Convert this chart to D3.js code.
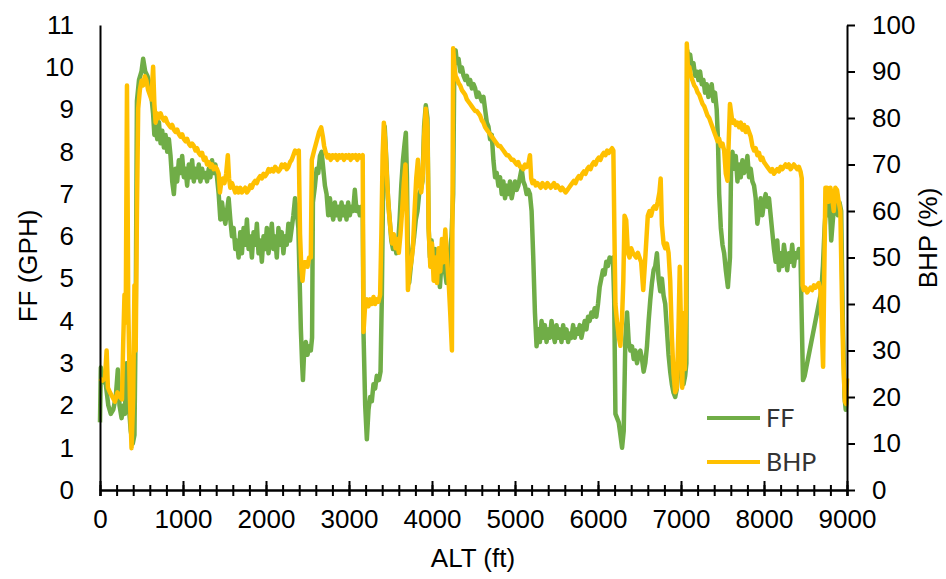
<!DOCTYPE html>
<html><head><meta charset="utf-8">
<script src="https://cdn.jsdelivr.net/npm/d3@7"></script>
<style>body{margin:0;background:#fff}svg{display:block}</style>
</head><body>
<svg id="chart" width="946" height="579"></svg>
<script>
// ---- data (ALT ft, value) ----
const altTicks = [0,1000,2000,3000,4000,5000,6000,7000,8000,9000];
const ffTicks = [0,1,2,3,4,5,6,7,8,9,10,11];
const bhpTicks = [0,10,20,30,40,50,60,70,80,90,100];
const seriesNames = ["FF","BHP"];

const ffSeries = [[0,1.6],[10,2.9],[40,2.6],[70,2.5],[100,2.0],[130,1.8],[160,1.9],[190,2.2],[215,2.85],[235,2.0],[260,1.7],[280,2.0],[300,1.8],[320,3.0],[340,2.2],[370,1.4],[395,1.1],[415,1.3],[430,4.0],[445,9.2],[470,9.7],[500,9.9],[520,10.2],[545,9.9],[570,9.8],[600,9.6],[620,9.3],[640,8.9],[655,8.4],[670,8.6],[690,8.3],[710,8.7],[730,8.2],[750,8.5],[770,8.1],[790,8.4],[810,8.0],[830,8.3],[850,7.9],[870,7.3],[890,7.0],[910,7.6],[930,7.3],[950,7.8],[970,7.5],[990,7.9],[1010,7.4],[1030,7.6],[1050,7.2],[1070,7.7],[1090,7.4],[1110,7.8],[1130,7.3],[1150,7.6],[1170,7.4],[1190,7.7],[1210,7.3],[1230,7.6],[1250,7.4],[1270,7.5],[1290,7.3],[1310,7.6],[1330,7.4],[1350,7.8],[1370,7.5],[1390,7.7],[1410,7.4],[1430,7.0],[1450,6.4],[1470,6.8],[1490,6.5],[1510,6.3],[1530,6.6],[1550,6.9],[1570,6.4],[1590,6.0],[1610,6.2],[1630,5.7],[1650,5.9],[1670,5.5],[1690,6.1],[1710,5.6],[1730,6.2],[1750,5.8],[1770,6.4],[1790,5.7],[1810,6.0],[1830,5.5],[1850,6.1],[1870,5.8],[1890,6.3],[1910,5.6],[1930,5.9],[1950,5.4],[1970,6.0],[1990,5.7],[2010,6.2],[2030,5.6],[2050,5.9],[2070,6.3],[2090,5.7],[2110,6.0],[2130,5.5],[2150,6.2],[2170,5.8],[2190,6.1],[2210,5.6],[2230,6.0],[2250,5.8],[2270,6.3],[2290,5.9],[2310,6.2],[2330,6.5],[2350,6.9],[2370,6.6],[2390,6.2],[2405,5.0],[2420,3.8],[2435,3.0],[2445,2.6],[2460,3.3],[2480,3.5],[2500,3.2],[2520,3.4],[2540,3.3],[2555,3.6],[2565,6.8],[2590,7.2],[2610,7.6],[2630,7.5],[2650,7.9],[2670,8.0],[2690,7.6],[2710,7.2],[2730,7.0],[2750,6.5],[2770,6.9],[2790,6.6],[2810,6.4],[2830,6.8],[2850,6.5],[2870,6.7],[2890,6.4],[2910,6.8],[2930,6.5],[2950,6.7],[2970,6.4],[2990,6.8],[3010,6.5],[3030,6.7],[3050,6.6],[3070,7.1],[3090,6.6],[3110,6.7],[3130,6.5],[3150,6.7],[3165,6.6],[3175,3.7],[3195,2.0],[3215,1.2],[3235,1.9],[3255,2.2],[3275,2.1],[3295,2.5],[3315,2.4],[3335,2.7],[3360,2.6],[3380,2.8],[3395,4.5],[3410,7.0],[3430,8.6],[3450,7.8],[3470,6.9],[3490,6.4],[3510,5.9],[3530,5.7],[3550,5.9],[3570,5.6],[3590,5.8],[3610,6.4],[3630,7.2],[3650,7.8],[3670,8.2],[3685,8.45],[3698,7.4],[3710,5.5],[3725,4.9],[3745,5.3],[3765,5.7],[3785,6.0],[3805,6.4],[3825,6.6],[3845,7.0],[3865,7.1],[3885,7.3],[3905,8.6],[3925,9.1],[3945,8.8],[3960,6.2],[3975,5.5],[3995,5.9],[4015,5.2],[4035,5.7],[4055,5.0],[4075,5.5],[4095,4.8],[4115,5.4],[4135,5.9],[4155,5.2],[4175,4.9],[4195,5.0],[4215,5.6],[4235,6.0],[4255,7.0],[4270,10.3],[4285,10.4],[4300,10.1],[4320,10.2],[4340,9.9],[4360,10.0],[4380,9.8],[4400,9.7],[4420,9.8],[4440,9.6],[4460,9.7],[4480,9.5],[4500,9.6],[4520,9.5],[4540,9.3],[4560,9.4],[4580,9.3],[4600,9.2],[4620,9.3],[4640,9.0],[4660,8.7],[4680,8.6],[4700,8.3],[4720,8.4],[4740,7.8],[4760,7.4],[4780,7.5],[4800,7.2],[4820,7.4],[4840,7.0],[4860,7.3],[4880,6.9],[4900,7.2],[4920,7.0],[4940,7.3],[4960,6.9],[4980,7.1],[5000,7.3],[5020,7.1],[5040,7.2],[5060,7.4],[5080,7.6],[5100,7.3],[5120,7.2],[5140,7.0],[5160,7.1],[5180,7.0],[5200,6.6],[5220,5.5],[5240,4.2],[5260,3.4],[5280,3.8],[5300,3.5],[5320,4.0],[5340,3.6],[5360,3.9],[5380,3.5],[5400,3.8],[5420,3.6],[5440,4.0],[5460,3.7],[5480,3.5],[5500,3.9],[5520,3.6],[5540,3.8],[5560,3.5],[5580,3.9],[5600,3.6],[5620,3.8],[5640,3.5],[5660,3.7],[5680,3.6],[5700,3.9],[5720,3.6],[5740,3.8],[5760,3.7],[5780,3.9],[5800,3.6],[5820,3.8],[5840,4.0],[5860,3.8],[5880,4.1],[5900,4.0],[5920,4.2],[5940,4.1],[5960,4.3],[5980,4.1],[6000,4.4],[6020,4.8],[6040,5.0],[6060,5.2],[6080,5.1],[6100,5.4],[6120,5.3],[6140,5.5],[6160,5.4],[6180,5.5],[6195,4.5],[6210,1.8],[6230,1.7],[6250,1.6],[6270,1.3],[6290,1.0],[6310,1.4],[6330,3.6],[6350,4.2],[6370,3.5],[6390,3.3],[6410,3.4],[6430,3.1],[6450,3.3],[6470,3.0],[6490,3.2],[6510,3.3],[6530,3.1],[6550,2.8],[6570,3.0],[6590,3.4],[6610,4.0],[6630,4.5],[6650,4.9],[6670,5.2],[6690,5.3],[6710,5.6],[6730,5.0],[6750,4.7],[6770,5.0],[6790,4.6],[6810,4.4],[6830,3.8],[6850,3.2],[6870,2.8],[6890,2.5],[6910,2.3],[6930,2.2],[6950,2.4],[6970,2.9],[6990,3.1],[7010,2.8],[7030,2.5],[7050,2.7],[7065,3.0],[7075,10.4],[7090,10.2],[7110,10.3],[7130,10.0],[7150,10.1],[7170,9.8],[7190,9.9],[7210,9.7],[7230,9.9],[7250,9.6],[7270,9.7],[7290,9.4],[7310,9.6],[7330,9.3],[7350,9.4],[7370,9.6],[7390,9.2],[7410,9.4],[7430,9.0],[7445,8.3],[7460,7.0],[7480,6.2],[7500,5.8],[7520,5.6],[7540,5.2],[7565,4.8],[7590,5.5],[7605,7.9],[7620,8.0],[7640,7.6],[7660,7.9],[7680,7.3],[7700,7.7],[7720,7.4],[7740,7.8],[7760,7.5],[7780,7.6],[7800,7.9],[7820,7.4],[7840,7.6],[7860,7.3],[7880,7.2],[7900,6.9],[7920,6.3],[7940,6.6],[7960,6.9],[7980,6.5],[8000,6.8],[8020,7.0],[8040,6.7],[8060,6.9],[8080,6.5],[8100,6.1],[8120,5.7],[8140,5.4],[8160,5.9],[8180,5.2],[8200,5.6],[8220,5.3],[8240,5.8],[8260,5.5],[8280,5.2],[8300,5.6],[8320,5.4],[8340,5.8],[8360,5.3],[8380,5.6],[8400,5.5],[8420,5.7],[8440,5.5],[8455,4.0],[8470,2.6],[8490,2.7],[8510,2.9],[8530,3.1],[8550,3.3],[8570,3.5],[8590,3.7],[8610,3.9],[8630,4.1],[8650,4.3],[8670,4.5],[8690,4.7],[8710,5.3],[8730,6.2],[8750,6.8],[8770,6.5],[8790,6.9],[8810,5.9],[8830,6.4],[8850,6.8],[8870,6.6],[8890,6.5],[8910,6.8],[8930,6.6],[8950,4.0],[8970,2.2],[8985,1.9],[9000,2.2]];

const bhpSeries = [[0,24],[30,23.5],[60,24],[80,30],[95,22],[120,21],[150,20],[180,19],[210,21],[240,20],[265,19.5],[280,32],[295,42],[310,36],[325,87],[340,40],[360,20],[380,9],[400,20],[415,44],[430,30],[445,60],[460,82],[480,86],[500,88],[520,87],[540,89],[560,88],[580,86],[600,85],[620,84],[640,91],[655,83],[670,79],[690,81],[710,80],[730,81],[750,80],[770,79.5],[790,80],[810,79],[830,78.5],[850,78],[870,78.5],[890,77.5],[910,77],[930,77.5],[950,76.5],[970,76],[990,76.5],[1010,75.5],[1030,75],[1050,75.5],[1070,74.5],[1090,74],[1110,74.5],[1130,74],[1150,73],[1170,73.5],[1190,72.5],[1210,72],[1230,72.5],[1250,71],[1270,71.5],[1290,70],[1310,70.5],[1330,69.5],[1350,70],[1370,69],[1390,69.5],[1410,69],[1430,68],[1445,64],[1460,66],[1480,67],[1500,66],[1520,68],[1540,72],[1555,67],[1570,65],[1590,66],[1610,65],[1630,64],[1650,65],[1670,64],[1690,65],[1710,64],[1730,64.5],[1750,65],[1770,64],[1790,64.5],[1810,65.5],[1830,65],[1850,66],[1870,66.5],[1890,66],[1910,67],[1930,67.5],[1950,67],[1970,68],[1990,67.5],[2010,68],[2030,69],[2050,68.5],[2070,69],[2090,68.5],[2110,69.5],[2130,69],[2150,68.5],[2170,69],[2190,70],[2210,69.5],[2230,70],[2250,69],[2270,69.5],[2290,70.5],[2310,71],[2330,72],[2350,73],[2370,72.5],[2395,73],[2410,55],[2425,48],[2440,45],[2460,49],[2480,49],[2500,48],[2520,50],[2540,50],[2552,71],[2580,73],[2610,75],[2640,77],[2665,78],[2685,76],[2700,74],[2720,72.5],[2740,71.5],[2760,72],[2780,71],[2800,72],[2820,71.5],[2840,72],[2860,71],[2880,72],[2900,71.5],[2920,72],[2940,71],[2960,72],[2980,71.5],[3000,72],[3020,71],[3040,72],[3060,71.5],[3080,72],[3100,71],[3120,72],[3140,71.5],[3165,72],[3175,34],[3195,40],[3215,41],[3235,39.5],[3255,41],[3275,40],[3295,41.5],[3315,40],[3335,41],[3355,40.5],[3375,42],[3390,55],[3405,72],[3420,79],[3440,74],[3460,66],[3480,60],[3500,56],[3520,53],[3540,55],[3560,52],[3580,54],[3600,51],[3620,55],[3640,60],[3660,66],[3680,70],[3695,60],[3710,43],[3730,47],[3750,49],[3770,52],[3790,60],[3810,67],[3830,71],[3850,66],[3870,64],[3890,68],[3905,76],[3925,82],[3945,78],[3960,56],[3980,48],[4000,53],[4020,45],[4040,50],[4060,44.5],[4080,52],[4100,47],[4120,54],[4140,49],[4160,56],[4180,50],[4200,45],[4220,38],[4240,30],[4255,95],[4270,91],[4285,89],[4300,88.5],[4320,87.5],[4340,87],[4360,86],[4380,85.5],[4400,85],[4420,84],[4440,83.5],[4460,83],[4480,82.5],[4500,82],[4520,81.5],[4540,81.5],[4560,81],[4580,80.5],[4600,79.5],[4620,79],[4640,78],[4660,77.5],[4680,77],[4700,76.5],[4720,76],[4740,75.5],[4760,75],[4780,74.5],[4800,74],[4820,74],[4840,73.5],[4860,73],[4880,72.5],[4900,72],[4920,72],[4940,71.5],[4960,71],[4980,71],[5000,70.5],[5020,70],[5040,70.5],[5060,69.5],[5080,69.5],[5100,69],[5120,70],[5140,69.5],[5160,70],[5180,72],[5195,67],[5210,66],[5230,66.5],[5250,65.5],[5270,66],[5290,65.5],[5310,65],[5330,66],[5350,65.5],[5370,65],[5390,66],[5410,65.5],[5430,65],[5450,65.5],[5470,66],[5490,65],[5510,65.5],[5530,65],[5550,64.5],[5570,65],[5590,64.5],[5610,64],[5630,64.5],[5650,65],[5670,65.5],[5690,66],[5710,66.5],[5730,66],[5750,67],[5770,67.5],[5790,67],[5810,68],[5830,68.5],[5850,68],[5870,69],[5890,69.5],[5910,69],[5930,70],[5950,70.5],[5970,70],[5990,71],[6010,71.5],[6030,71],[6050,72],[6070,72.5],[6090,72],[6110,73],[6130,72.5],[6150,73],[6170,73.5],[6185,73],[6198,55],[6210,40],[6230,36],[6250,33],[6270,31],[6290,37],[6305,45],[6320,59],[6340,58],[6360,51],[6380,50],[6400,52],[6420,51],[6440,50.5],[6460,50],[6480,51],[6500,50],[6520,49],[6545,43],[6570,50],[6600,59],[6620,60],[6640,59],[6660,60.5],[6680,61],[6700,60.5],[6720,62],[6740,64],[6755,67],[6770,57],[6790,53],[6810,52],[6830,53],[6850,51],[6870,45],[6890,33],[6910,25],[6930,21],[6950,22],[6970,35],[6985,48],[7000,35],[7015,22],[7030,38],[7045,26],[7060,40],[7070,96],[7085,90],[7100,91],[7120,89],[7140,88],[7160,87],[7180,86.5],[7200,85.5],[7220,85],[7240,84],[7260,83],[7280,82.5],[7300,81.5],[7320,80.5],[7340,80],[7360,79],[7380,78],[7400,77],[7420,76],[7440,75],[7460,75.5],[7480,74],[7500,74.5],[7520,73],[7540,68],[7560,66.5],[7575,75],[7590,83],[7605,81],[7620,79],[7640,79.5],[7660,78.5],[7680,79],[7700,78],[7720,79],[7740,77.5],[7760,78.5],[7780,77],[7800,78],[7820,77],[7840,76],[7860,74],[7880,73],[7900,73.5],[7920,72],[7940,72.5],[7960,71],[7980,71.5],[8000,70.5],[8020,70],[8040,69.5],[8060,69],[8080,68.5],[8100,69],[8120,68],[8140,68.5],[8160,69],[8180,68.5],[8200,69.5],[8220,69],[8240,69.5],[8260,70],[8280,69.5],[8300,70],[8320,69],[8340,69.5],[8360,70],[8380,69.5],[8400,69],[8420,69.5],[8440,68.5],[8455,67],[8465,44],[8480,43],[8500,43.5],[8520,42.5],[8540,43],[8560,43.5],[8580,43],[8600,44],[8620,43.5],[8640,44],[8660,44.5],[8680,43],[8700,33],[8712,26.5],[8725,45],[8740,65],[8760,65],[8780,62],[8800,65],[8820,63],[8840,60],[8860,65],[8880,64.5],[8900,62],[8920,60],[8940,40],[8955,28],[8975,19],[8990,18.5],[9000,24]];

// ---- drawing ----
const svg = d3.select("#chart");
const L = 100, R = 847, T = 25, B = 490;
const x = d3.scaleLinear().domain([0, 9000]).range([L, R]);
const yL = d3.scaleLinear().domain([0, 11]).range([B, T]);
const yR = d3.scaleLinear().domain([0, 100]).range([B, T]);
const colors = {FF: "#70AD47", BHP: "#FFC000"};
const font = "'Liberation Sans', Arial, sans-serif";

// series lines
const lineFF = d3.line().x(d => x(d[0])).y(d => yL(d[1]));
const lineBHP = d3.line().x(d => x(d[0])).y(d => yR(d[1]));
svg.append("path").datum(ffSeries).attr("d", lineFF)
  .attr("fill", "none").attr("stroke", colors.FF).attr("stroke-width", 4.5).attr("stroke-linejoin", "round");
svg.append("path").datum(bhpSeries).attr("d", lineBHP)
  .attr("fill", "none").attr("stroke", colors.BHP).attr("stroke-width", 4.5).attr("stroke-linejoin", "round");

function styleAxis(g) {
  g.selectAll("text").attr("font-family", font).attr("font-size", 26).attr("fill", "#000");
  g.selectAll("path.domain").attr("stroke", "#000").attr("stroke-width", 2);
  g.selectAll(".tick line").attr("stroke", "#000").attr("stroke-width", 2);
}

// left axis
const gL = svg.append("g").attr("transform", `translate(${L},0)`)
  .call(d3.axisLeft(yL).tickValues(ffTicks).tickSize(0).tickPadding(26).tickFormat(d3.format("d")));
styleAxis(gL);

// right axis
const gR = svg.append("g").attr("transform", `translate(${R},0)`)
  .call(d3.axisRight(yR).tickValues(bhpTicks).tickSizeInner(8).tickSizeOuter(0).tickPadding(17).tickFormat(d3.format("d")));
styleAxis(gR);

// bottom axis: minor ticks
const gMinor = svg.append("g").attr("transform", `translate(0,${B})`)
  .call(d3.axisBottom(x).tickValues(d3.range(0, 9001, 200)).tickSize(6).tickFormat(""));
gMinor.selectAll(".tick line").attr("y1", -5);
styleAxis(gMinor);
// bottom axis: major
const gB = svg.append("g").attr("transform", `translate(0,${B})`)
  .call(d3.axisBottom(x).tickValues(altTicks).tickSize(6).tickSizeOuter(0).tickPadding(14).tickFormat(d3.format("d")));
gB.selectAll(".tick line").attr("y1", -9);
styleAxis(gB);

// titles
svg.append("text").attr("x", 473).attr("y", 567).attr("text-anchor", "middle")
  .attr("font-family", font).attr("font-size", 26).attr("fill", "#000").text("ALT (ft)");
svg.append("text").attr("transform", "translate(28,266) rotate(-90)").attr("text-anchor", "middle").attr("dy", "0.35em")
  .attr("font-family", font).attr("font-size", 26).attr("fill", "#000").text("FF (GPH)");
svg.append("text").attr("transform", "translate(928,238) rotate(-90)").attr("text-anchor", "middle").attr("dy", "0.35em")
  .attr("font-family", font).attr("font-size", 26).attr("fill", "#000").text("BHP (%)");

// legend
const legend = svg.append("g");
seriesNames.forEach((name, i) => {
  const yy = 418 + i * 44;
  legend.append("line").attr("x1", 707).attr("x2", 760).attr("y1", yy).attr("y2", yy)
    .attr("stroke", colors[name]).attr("stroke-width", 4);
  legend.append("text").attr("x", 766).attr("y", yy).attr("dy", "0.35em")
    .attr("font-family", "Lato, 'Open Sans', sans-serif").attr("font-size", 25).attr("fill", "#333").text(name);
});
</script>
</body></html>
